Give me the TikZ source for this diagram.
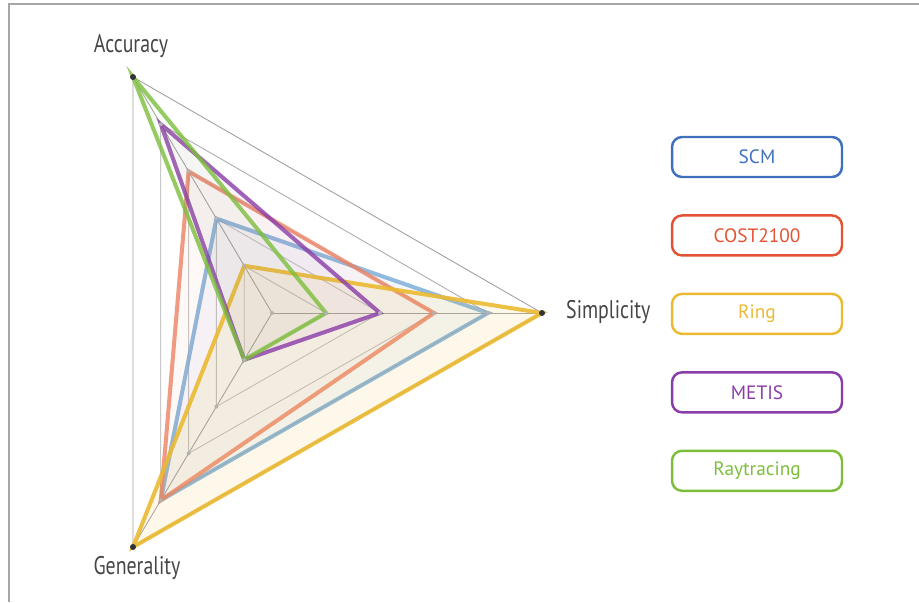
\documentclass[tikz,border=0pt]{standalone}
\usepackage{fontspec}
\setmainfont{PT Sans}
\newfontfamily\axisfont{PT Sans}[FakeStretch=0.78]
\usetikzlibrary{positioning}

\definecolor{scmblue}{RGB}{62,112,190}
\definecolor{scmline}{RGB}{120,170,215}
\definecolor{costred}{RGB}{228,82,52}
\definecolor{costline}{RGB}{236,130,100}
\definecolor{ringyellow}{RGB}{234,186,50}
\definecolor{metispurple}{RGB}{138,60,168}
\definecolor{raygreen}{RGB}{124,190,60}
\definecolor{labelgray}{RGB}{70,70,70}

\tikzstyle{axislabel} = [font=\axisfont\fontsize{14.5}{16}\selectfont, text=labelgray]
\tikzstyle{legendbox} = [rectangle, rounded corners=0.2cm, minimum width=3.4cm,
minimum height=0.8cm, text centered, line width=1.4pt, font=\fontsize{11}{13}\selectfont]
\tikzstyle{series} = [line width=2.3pt, draw opacity=0.8, fill opacity=0.05]
\tikzstyle{gridring} = [gray!45, line width=0.5pt]
\tikzstyle{griddot} = [circle, fill=gray!60, inner sep=0pt, minimum size=0.08cm]
\tikzstyle{tipdot} = [circle, fill=black!80, inner sep=0pt, minimum size=0.12cm]

\begin{document}
\begin{tikzpicture}[x=0.02cm, y=-0.02cm, node distance=0.72cm]
    \useasboundingbox (0,0) rectangle (919,602);
    \draw[gray!70, line width=0.8pt] (9,602) -- (9,4) -- (919,4);

    % level points on the three axes
    \coordinate (C) at (272,313);
    \foreach \i in {1,...,5} {
        \coordinate (A\i) at ({272-27.8*\i},{313-47.2*\i});
        \coordinate (S\i) at ({272+54*\i},313);
        \coordinate (G\i) at ({272-27.8*\i},{313+46.8*\i});
    }

    % grid
    \foreach \i in {1,2,3}
        \draw[gridring] (A\i) -- (S\i) -- (G\i) -- cycle;
    \draw[gridring, gray!65] (A4) -- (S4) -- (G4) -- cycle;
    \draw[gridring, gray!75] (A5) -- (S5) -- (G5) -- cycle;
    \draw[gray!70, line width=0.5pt] (C) -- (A5);
    \draw[gray!70, line width=0.5pt] (C) -- (S5);
    \draw[gray!70, line width=0.5pt] (C) -- (G5);

    % series
    \draw[series, draw=scmline, fill=scmblue] (A2) -- (S4) -- (G4) -- cycle;
    \draw[series, draw=costline, fill=costred, fill opacity=0.04] (A3) -- (S3) -- (G4) -- cycle;
    \draw[series, draw=ringyellow, fill=ringyellow, fill opacity=0.1, draw opacity=0.9] (A1) -- (S5) -- (G5) -- cycle;
    \draw[series, draw=metispurple, fill=metispurple, fill opacity=0.04] (A4) -- (S2) -- (G1) -- cycle;
    \draw[series, draw=raygreen, fill=raygreen, fill opacity=0.04] (A5) -- (S1) -- (G1) -- cycle;

    % dots
    \foreach \i in {1,...,4} {
        \node[griddot] (da\i) at (A\i) {};
        \node[griddot] (ds\i) at (S\i) {};
        \node[griddot] (dg\i) at (G\i) {};
    }
    \node[griddot] (dc) at (C) {};
    \node[tipdot] (da5) at (A5) {};
    \node[tipdot] (ds5) at (S5) {};
    \node[tipdot] (dg5) at (G5) {};

    % axis labels
    \node (acc) [axislabel] at (131,46) {Accuracy};
    \node (sim) [axislabel, anchor=west] at (560,312) {Simplicity};
    \node (gen) [axislabel] at (137,568) {Generality};

    % legend
    \node (scm) [legendbox, draw=scmblue, text=scmblue] at (757,157) {SCM};
    \node (cost) [legendbox, draw=costred, text=costred, below=of scm] {COST2100};
    \node (ring) [legendbox, draw=ringyellow, text=ringyellow, below=of cost] {Ring};
    \node (metis) [legendbox, draw=metispurple, text=metispurple, below=of ring] {METIS};
    \node (ray) [legendbox, draw=raygreen, text=raygreen, below=of metis] {Raytracing};

\end{tikzpicture}
\end{document}
